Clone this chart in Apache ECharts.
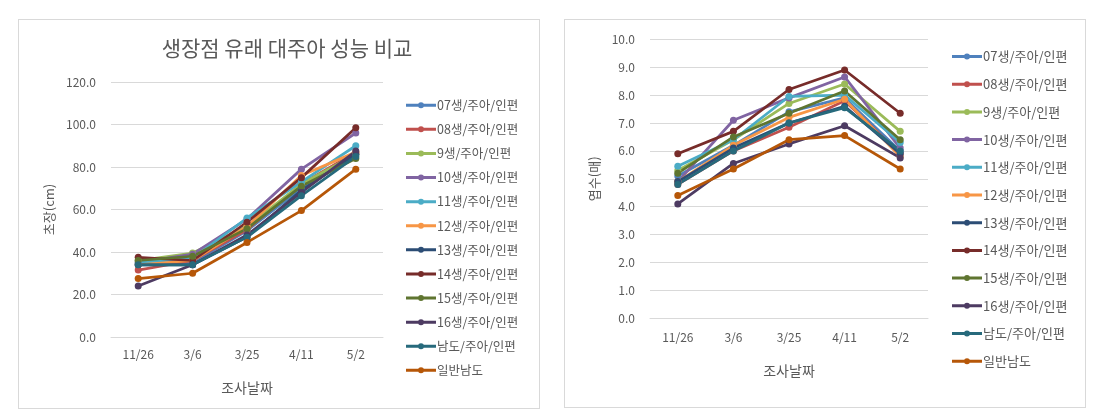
<!DOCTYPE html>
<html><head><meta charset="utf-8">
<script src="https://cdn.jsdelivr.net/npm/echarts@6/dist/echarts.min.js"></script>
<style>
html,body{margin:0;padding:0;background:#fff;width:1101px;height:412px;overflow:hidden;}
.box{position:absolute;border:1px solid #d9d9d9;}
</style></head><body>
<div id="c1" class="box" style="left:18px;top:19px;width:520px;height:388px;"></div>
<div id="c2" class="box" style="left:564px;top:19px;width:520px;height:387px;"></div>
<script>
const categories = ['11/26','3/6','3/25','4/11','5/2'];
const seriesNames = ['07생/주아/인편','08생/주아/인편','9생/주아/인편','10생/주아/인편','11생/주아/인편','12생/주아/인편','13생/주아/인편','14생/주아/인편','15생/주아/인편','16생/주아/인편','남도/주아/인편','일반남도'];
const colors = ['#4F81BD','#C0504D','#9BBB59','#8064A2','#4BACC6','#F79646','#2C4D75','#772C2A','#5F7530','#4D3B62','#276A7C','#B65708'];

// 초장(cm)
const h07 = [34.0, 35.0, 50.0, 70.0, 86.0];
const h08 = [31.5, 36.0, 50.5, 72.0, 87.0];
const h09 = [36.0, 39.5, 52.0, 72.0, 86.0];
const h10 = [35.0, 39.0, 55.5, 79.0, 96.0];
const h11 = [35.0, 37.0, 56.0, 73.0, 90.0];
const h12 = [34.0, 36.0, 52.0, 76.0, 87.0];
const h13 = [34.0, 34.0, 47.0, 69.0, 86.0];
const h14 = [37.5, 36.0, 54.0, 75.0, 98.5];
const h15 = [36.0, 38.0, 51.0, 71.0, 84.0];
const h16 = [24.0, 34.0, 48.0, 68.0, 87.5];
const hNamdo = [34.0, 34.0, 47.0, 66.5, 85.0];
const hNormal = [27.5, 30.0, 44.5, 59.5, 79.0];

// 엽수(매)
const l07 = [5.1, 6.2, 7.4, 7.9, 6.0];
const l08 = [4.8, 6.0, 6.85, 7.8, 5.9];
const l09 = [5.3, 6.4, 7.7, 8.4, 6.7];
const l10 = [4.9, 7.1, 7.9, 8.65, 6.1];
const l11 = [5.45, 6.4, 7.95, 8.0, 6.3];
const l12 = [4.9, 6.2, 7.2, 7.85, 5.8];
const l13 = [4.9, 6.1, 7.0, 7.6, 5.9];
const l14 = [5.9, 6.7, 8.2, 8.9, 7.35];
const l15 = [5.2, 6.5, 7.35, 8.15, 6.4];
const l16 = [4.1, 5.55, 6.25, 6.9, 5.75];
const lNamdo = [4.8, 6.0, 7.0, 7.55, 6.0];
const lNormal = [4.4, 5.35, 6.4, 6.55, 5.35];

const heightData = [h07,h08,h09,h10,h11,h12,h13,h14,h15,h16,hNamdo,hNormal];
const leafData = [l07,l08,l09,l10,l11,l12,l13,l14,l15,l16,lNamdo,lNormal];

const yTicks1 = {min:0, max:120, interval:20};
const yTicks2 = {min:0, max:10, interval:1};

const FONT = '"Noto Sans CJK KR", "Noto Sans", sans-serif';
const TXT = '#595959';
const LEGEND_ICON = 'path://M0,4.5 L30,4.5 L30,7.5 L0,7.5 Z M15,3 A3,3 0 1,1 15,9 A3,3 0 1,1 15,3 Z';

function makeSeries(data){
  return seriesNames.map((n,i)=>({
    name:n, type:'line', data:data[i],
    symbol:'circle', symbolSize:7,
    lineStyle:{width:2.75, color:colors[i]},
    itemStyle:{color:colors[i]},
    emphasis:{disabled:true},
    animation:false
  }));
}

function makeOption(cfg){
  return {
    animation:false,
    textStyle:{fontFamily:FONT},
    color:colors,
    title: cfg.title ? {text:cfg.title, left:cfg.titleLeft, top:cfg.titleTop, textAlign:'center',
      textStyle:{fontFamily:FONT, fontSize:21, fontWeight:'normal', color:TXT}} : undefined,
    legend:{
      orient:'vertical', left:cfg.legLeft, top:cfg.legTop, padding:0,
      icon:LEGEND_ICON,
      itemWidth:30, itemHeight:14, itemGap:cfg.legGap,
      textStyle:{fontFamily:FONT, fontSize:cfg.legFont, color:TXT, padding:[0,0,0,-4]},
      data:seriesNames
    },
    grid:{left:cfg.gl, top:cfg.gt, width:cfg.gw, height:cfg.gh},
    xAxis:{
      type:'category', data:categories, boundaryGap:true,
      name:'조사날짜', nameLocation:'middle', nameGap:cfg.xNameGap,
      nameTextStyle:{fontFamily:FONT, fontSize:14, color:TXT},
      axisLine:{lineStyle:{color:'#d9d9d9', width:1}},
      axisTick:{show:false},
      axisLabel:{fontFamily:FONT, fontSize:12, color:TXT, margin:cfg.xMargin}
    },
    yAxis:{
      type:'value', min:cfg.y.min, max:cfg.y.max, interval:cfg.y.interval,
      name:cfg.yName, nameLocation:'middle', nameGap:cfg.yNameGap, nameRotate:90,
      nameTextStyle:{fontFamily:FONT, fontSize:13, color:TXT},
      axisLine:{show:false}, axisTick:{show:false},
      splitLine:{lineStyle:{color:'#d9d9d9', width:1}},
      axisLabel:{fontFamily:FONT, fontSize:12, color:TXT, margin:15, formatter:v=>v.toFixed(1)}
    },
    series:makeSeries(cfg.data)
  };
}

const ch1 = echarts.init(document.getElementById('c1'), null, {renderer:'canvas'});
ch1.setOption(makeOption({
  title:'생장점 유래 대주아 성능 비교', titleLeft:263, titleTop:13,
  legLeft:387, legTop:79, legGap:11.6, legFont:12.5,
  gl:92, gt:62, gw:272, gh:255,
  xNameGap:44, xMargin:11,
  y:yTicks1, yName:'초장(cm)', yNameGap:50,
  data:heightData
}));

const ch2 = echarts.init(document.getElementById('c2'), null, {renderer:'canvas'});
ch2.setOption(makeOption({
  title:null,
  legLeft:387, legTop:30, legGap:14.7, legFont:13,
  gl:85, gt:19.3, gw:278, gh:279,
  xNameGap:45, xMargin:13,
  y:yTicks2, yName:'엽수(매)', yNameGap:44,
  data:leafData
}));
</script>
</body></html>
